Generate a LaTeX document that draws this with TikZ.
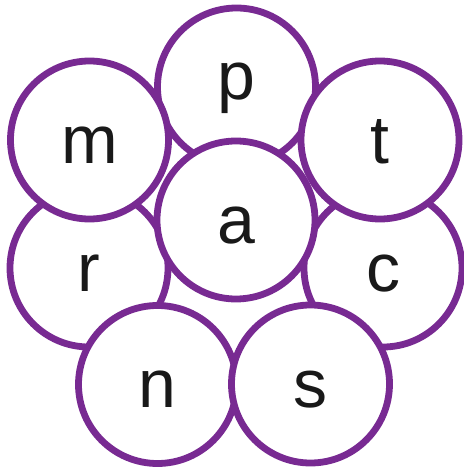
\documentclass[tikz,border=0pt]{standalone}
\usepackage{fontspec}
\setmainfont{Liberation Sans}
\definecolor{ringpurple}{RGB}{120,42,146}
\begin{document}
\begin{tikzpicture}[x=0.5pt,y=-0.5pt,
    ring/.style={circle,draw=ringpurple,line width=3.4pt,fill=white,
      minimum size=79pt,inner sep=0pt,outer sep=0pt,
      font=\fontsize{34}{40}\selectfont,text=black!90,
      text height=23pt,text depth=0pt}]
		  \useasboundingbox (0,0) rectangle (463,470);
		  \node[ring,text depth=10pt] (p) at (236.5,87) {p};
		  \node[ring] (r) at (89,268) {r};
		  \node[ring] (c) at (383,268) {c};
		  \node[ring] (m) at (89.5,140) {m};
		  \node[ring] (t) at (380,140) {t};
		  \node[ring] (n) at (157.5,384.5) {n};
		  \node[ring] (s) at (310.5,384) {s};
		  \node[ring] (a) at (236,220) {a};
\end{tikzpicture}
\end{document}
